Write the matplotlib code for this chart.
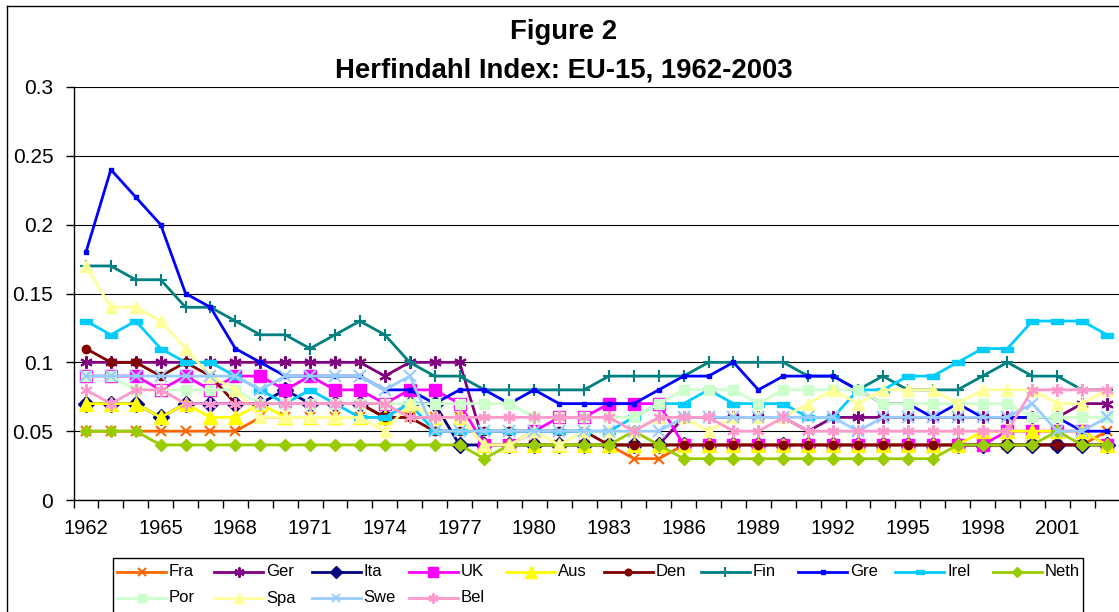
import numpy as np
import matplotlib
matplotlib.use("Agg")
import matplotlib.pyplot as plt
from matplotlib.lines import Line2D

plt.rcParams['font.family'] = ['Liberation Sans', 'DejaVu Sans']

years = list(range(1962, 2004))

fra = [0.05]*7 + [0.06]*9 + [0.04]*6 + [0.03]*2 + [0.04]*17 + [0.05]
ger = [0.10]*12 + [0.09] + [0.10]*3 + [0.04]*8 + [0.06]*5 + [0.05] + [0.06]*10 + [0.07]*2
ita = [0.07]*3 + [0.06] + [0.07]*4 + [0.08] + [0.07]*3 + [0.06] + [0.07]*2 + [0.04]*27
uk = ([0.09]*3 + [0.08, 0.09, 0.08] + [0.09]*2 + [0.08, 0.09] + [0.08]*2 + [0.07] + [0.08]*2
      + [0.07] + [0.04]*2 + [0.05] + [0.06]*2 + [0.07]*3 + [0.04]*13 + [0.05]*4 + [0.04])
aus = ([0.07]*3 + [0.06, 0.07] + [0.06]*2 + [0.07] + [0.06]*5 + [0.07] + [0.06]*2
       + [0.04]*20 + [0.05]*5 + [0.04])
den = [0.11] + [0.10]*2 + [0.09, 0.10, 0.09] + [0.07]*6 + [0.06]*2 + [0.05]*7 + [0.04]*21
fin = ([0.17, 0.17, 0.16, 0.16, 0.14, 0.14, 0.13, 0.12, 0.12, 0.11, 0.12, 0.13, 0.12, 0.10]
       + [0.09]*2 + [0.08]*5 + [0.09]*4 + [0.10]*4 + [0.09]*2 + [0.08, 0.09] + [0.08]*3
       + [0.09, 0.10] + [0.09]*2 + [0.08]*2)
gre = ([0.18, 0.24, 0.22, 0.20, 0.15, 0.14, 0.11, 0.10] + [0.09]*4 + [0.08]*2 + [0.07]
       + [0.08]*2 + [0.07, 0.08] + [0.07]*4 + [0.08] + [0.09]*2 + [0.10, 0.08] + [0.09]*3
       + [0.08] + [0.07]*2 + [0.06, 0.07] + [0.06]*4 + [0.05]*2)
irel = ([0.13, 0.12, 0.13, 0.11, 0.10, 0.10, 0.09, 0.08, 0.07, 0.08, 0.07, 0.06, 0.06]
        + [0.07] + [0.05]*8 + [0.06] + [0.07]*2 + [0.08] + [0.07]*3 + [0.06]*2 + [0.08]*2
        + [0.09]*2 + [0.10] + [0.11]*2 + [0.13]*3 + [0.12])
neth = ([0.05]*3 + [0.04]*13 + [0.03] + [0.04]*5 + [0.05, 0.04] + [0.03]*11 + [0.04]*4
        + [0.05] + [0.04]*2)
por = ([0.09]*2 + [0.08]*5 + [0.07]*11 + [0.06]*5 + [0.07] + [0.08]*3 + [0.07]
       + [0.08]*4 + [0.07]*6 + [0.06]*4)
spa = ([0.17, 0.14, 0.14, 0.13, 0.11, 0.09, 0.08, 0.06, 0.06, 0.06, 0.06, 0.06]
       + [0.05, 0.07] + [0.06]*2 + [0.04]*2 + [0.05, 0.04, 0.05] + [0.05]*2 + [0.06]*2
       + [0.05] + [0.06]*3 + [0.07, 0.08, 0.07] + [0.08]*3 + [0.07] + [0.08]*3
       + [0.07]*2 + [0.08])
swe = ([0.09]*7 + [0.08] + [0.09]*4 + [0.08, 0.09] + [0.05]*10 + [0.06]*7 + [0.05]
       + [0.06]*6 + [0.07] + [0.05]*2 + [0.06])
bel = ([0.08, 0.07] + [0.08]*2 + [0.07]*9 + [0.06]*9 + [0.05] + [0.06]*3 + [0.05]*2
       + [0.06] + [0.05]*9 + [0.08]*4)

names = ["Fra", "Ger", "Ita", "UK", "Aus", "Den", "Fin", "Gre", "Irel", "Neth",
         "Por", "Spa", "Swe", "Bel"]
series = [fra, ger, ita, uk, aus, den, fin, gre, irel, neth, por, spa, swe, bel]

y_ticks = [0, 0.05, 0.1, 0.15, 0.2, 0.25, 0.3]
y_labels = ["0", "0.05", "0.1", "0.15", "0.2", "0.25", "0.3"]
x_label_years = list(range(1962, 2004, 3))

rect_marker = [(-1, -0.45), (1, -0.45), (1, 0.45), (-1, 0.45), (-1, -0.45)]
styles = {
    "Fra":  dict(color="#FF6600", marker="x", ms=7, mew=1.5),
    "Ger":  dict(color="#800080", marker=(6, 2, 0), ms=9, mew=1.5),
    "Ita":  dict(color="#000080", marker="D", ms=8),
    "UK":   dict(color="#FF00FF", marker="s", ms=9),
    "Aus":  dict(color="#FFFF00", marker="^", ms=10),
    "Den":  dict(color="#800000", marker="o", ms=6),
    "Fin":  dict(color="#008080", marker="+", ms=9, mew=1.5),
    "Gre":  dict(color="#0000FF", marker="s", ms=3.5),
    "Irel": dict(color="#00CCFF", marker=rect_marker, ms=8),
    "Neth": dict(color="#99CC00", marker="D", ms=6),
    "Por":  dict(color="#CCFFCC", marker="s", ms=7),
    "Spa":  dict(color="#FFFF99", marker="^", ms=9),
    "Swe":  dict(color="#99CCFF", marker="x", ms=8, mew=1.5),
    "Bel":  dict(color="#FF99CC", marker=(6, 2, 0), ms=9, mew=1.5),
}

W, H = 1119, 612
fig = plt.figure(figsize=(W/100, H/100), dpi=100)

def fx(x):
    return x / W

def fy(y):
    return 1 - y / H

ax = fig.add_axes([fx(73.5), fy(500), (1119.5 - 73.5) / W, 413 / H])

for i, (name, vals) in enumerate(zip(names, series)):
    st = styles[name]
    ax.plot(years, vals, color=st["color"], lw=2, marker=st["marker"],
            ms=st["ms"], mew=st.get("mew", 1), mec=st["color"], mfc=st["color"],
            zorder=3 + i, clip_on=False)

ax.set_xlim(1961.5, 2003.5)
ax.set_ylim(0, 0.3)
ax.set_yticks(y_ticks)
ax.set_yticklabels(y_labels, fontsize=15)
ax.yaxis.grid(True, color="black", lw=0.8)
ax.set_axisbelow(True)
ax.tick_params(axis="y", length=6, width=1, pad=8.5, direction="out")

ax.set_xticks(np.arange(1961.5, 2004.0, 1.0))
ax.set_xticklabels([])
ax.tick_params(axis="x", which="major", length=6, width=1, direction="out")
ax.set_xticks(x_label_years, minor=True)
ax.set_xticklabels([str(y) for y in x_label_years], minor=True, fontsize=14.5)
ax.tick_params(axis="x", which="minor", length=0, pad=14)

for s in ["top", "right"]:
    ax.spines[s].set_visible(False)
for s in ["left", "bottom"]:
    ax.spines[s].set_color("black")
    ax.spines[s].set_linewidth(1)

fig.text(fx(564), fy(32), "Figure 2", ha="center", va="center",
         fontsize=19.8, fontweight="bold")
fig.text(fx(564), fy(70), "Herfindahl Index: EU-15, 1962-2003", ha="center",
         va="center", fontsize=19.8, fontweight="bold")

# chart area border
fig.add_artist(Line2D([fx(7), fx(7)], [fy(6), fy(640)], color="black", lw=1))
fig.add_artist(Line2D([fx(7), fx(1130)], [fy(6), fy(6)], color="black", lw=1))

# legend box
fig.add_artist(plt.Rectangle((fx(113), fy(640)), fx(1083) - fx(113), fy(558) - fy(640),
                             transform=fig.transFigure, fill=False, ec="black", lw=1))
col_w = 97.3
for i, name in enumerate(names):
    st = styles[name]
    c, r = i % 10, i // 10
    x0 = 117 + c * col_w
    yy = 572 + r * 26
    fig.add_artist(Line2D([fx(x0), fx(x0 + 49)], [fy(yy), fy(yy)],
                          color=st["color"], lw=2))
    fig.add_artist(Line2D([fx(x0 + 24.5)], [fy(yy)], marker=st["marker"],
                          ms=st["ms"] * 0.8, mew=st.get("mew", 1),
                          color=st["color"], mfc=st["color"], mec=st["color"]))
    fig.text(fx(x0 + 52), fy(yy), name, ha="left", va="center", fontsize=12)

fig.savefig("out.png", dpi=100)
